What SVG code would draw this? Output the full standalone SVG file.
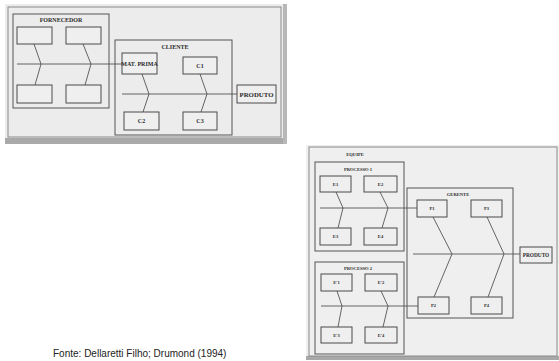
<svg xmlns="http://www.w3.org/2000/svg" width="559" height="361" viewBox="0 0 559 361">
<style>
.bg{fill:#ececec}
.fr{fill:none;stroke:#8a8a8a;stroke-width:1}
.grp{fill:none;stroke:#555;stroke-width:1}
.box{fill:#efefef;stroke:#4a4a4a;stroke-width:1}
.ln{fill:none;stroke:#555;stroke-width:0.9}
.t{font-family:"Liberation Serif","Times New Roman",serif;fill:#2a2a2a;text-anchor:middle;font-weight:bold}
.s1{font-size:6px}
.s2{font-size:4.6px}
.cap{font-family:"Liberation Sans",Arial,sans-serif;font-size:10px;fill:#222}
</style>
<rect width="559" height="361" fill="#ffffff"/>
<!-- top figure background -->
<rect class="bg" x="5" y="4" width="282" height="140"/>
<rect x="5" y="138" width="282" height="6" fill="#a9a9a9"/>
<rect x="283" y="4" width="4" height="140" fill="#b8b8b8"/>
<rect class="fr" x="8" y="7" width="273" height="130"/>
<!-- bottom figure background -->
<rect x="306" y="145" width="253" height="214" fill="#efefef"/>
<rect x="306" y="356" width="253" height="4" fill="#a8a8a8"/>
<rect class="fr" x="309" y="147" width="248" height="209"/>

<g id="connectors">
  <line class="ln" x1="17" y1="64" x2="122" y2="64"/>
  <polyline class="ln" points="34,44 41,64 35,85"/>
  <polyline class="ln" points="83,44 91,64 85,85"/>
  <line class="ln" x1="122" y1="94" x2="237" y2="94"/>
  <polyline class="ln" points="142,74 149,94 143,112"/>
  <polyline class="ln" points="200,74 207,94 201,112"/>
  <line class="ln" x1="320" y1="208" x2="417" y2="208"/>
  <polyline class="ln" points="336,192 343,208 338,228"/>
  <polyline class="ln" points="380,192 388,208 382,228"/>
  <line class="ln" x1="413" y1="254" x2="520" y2="254"/>
  <polyline class="ln" points="433,217 452,254 434,297"/>
  <polyline class="ln" points="487,217 504,254 488,297"/>
  <line class="ln" x1="321" y1="306" x2="418" y2="306"/>
  <polyline class="ln" points="337,291 342,306 338,327"/>
  <polyline class="ln" points="381,291 388,306 383,327"/>
</g>

<g id="fornecedor">
  <rect class="grp" x="13" y="14" width="96" height="94"/>
  <text class="t s1" x="61" y="21.5">FORNECEDOR</text>
</g>
<g id="f1"><rect class="box" x="17" y="27" width="35" height="17"/></g>
<g id="f2"><rect class="box" x="66" y="27" width="35" height="17"/></g>
<g id="f3"><rect class="box" x="17" y="85" width="35" height="18"/></g>
<g id="f4"><rect class="box" x="66" y="85" width="35" height="18"/></g>

<g id="cliente">
  <rect class="grp" x="115" y="40" width="117" height="95"/>
  <text class="t s1" x="175" y="49">CLIENTE</text>
</g>
<g id="matprima"><rect class="box" x="122" y="53" width="35" height="21"/><text class="t s1" x="139.5" y="66">MAT. PRIMA</text></g>
<g id="c1"><rect class="box" x="183" y="57" width="34" height="17"/><text class="t s1" x="200" y="67.5">C1</text></g>
<g id="c2"><rect class="box" x="124" y="112" width="35" height="18"/><text class="t s1" x="141.5" y="123">C2</text></g>
<g id="c3"><rect class="box" x="183" y="112" width="34" height="18"/><text class="t s1" x="200" y="123">C3</text></g>
<g id="produto1"><rect class="box" x="237" y="85" width="39" height="18"/><text class="t" font-size="6.8" x="256.5" y="96.5">PRODUTO</text></g>

<g id="equipe"><text class="t s2" x="355" y="156">EQUIPE</text></g>
<g id="processo1">
  <rect class="grp" x="315" y="162" width="89" height="89"/>
  <text class="t s2" x="358" y="170.5">PROCESSO 1</text>
</g>
<g id="e1"><rect class="box" x="320" y="176" width="31" height="16"/><text class="t s2" x="335.5" y="185.5">E1</text></g>
<g id="e2"><rect class="box" x="364" y="176" width="33" height="16"/><text class="t s2" x="380.5" y="185.5">E2</text></g>
<g id="e3"><rect class="box" x="320" y="228" width="31" height="17"/><text class="t s2" x="335.5" y="238">E3</text></g>
<g id="e4"><rect class="box" x="364" y="228" width="33" height="17"/><text class="t s2" x="380.5" y="238">E4</text></g>

<g id="gerente">
  <rect class="grp" x="407" y="188" width="106" height="130"/>
  <text class="t s2" x="458" y="195.5">GERENTE</text>
</g>
<g id="p1"><rect class="box" x="417" y="200" width="30" height="17"/><text class="t s2" x="432" y="210">P1</text></g>
<g id="p3"><rect class="box" x="471" y="200" width="31" height="17"/><text class="t s2" x="486.5" y="210">P3</text></g>
<g id="p2"><rect class="box" x="418" y="297" width="31" height="17"/><text class="t s2" x="433.5" y="307">P2</text></g>
<g id="p4"><rect class="box" x="471" y="297" width="31" height="17"/><text class="t s2" x="486.5" y="307">P4</text></g>
<g id="produto2"><rect class="box" x="520" y="247" width="32" height="16"/><text class="t" font-size="5.3" x="536" y="256.8">PRODUTO</text></g>

<g id="processo2">
  <rect class="grp" x="315" y="262" width="89" height="92"/>
  <text class="t s2" x="358" y="269.5">PROCESSO 2</text>
</g>
<g id="e1b"><rect class="box" x="321" y="274" width="31" height="17"/><text class="t s2" x="336.5" y="284">E'1</text></g>
<g id="e2b"><rect class="box" x="365" y="274" width="32" height="17"/><text class="t s2" x="381" y="284">E'2</text></g>
<g id="e3b"><rect class="box" x="321" y="327" width="31" height="16"/><text class="t s2" x="336.5" y="336.5">E'3</text></g>
<g id="e4b"><rect class="box" x="365" y="327" width="32" height="16"/><text class="t s2" x="381" y="336.5">E'4</text></g>

<text class="cap" x="53" y="356.5">Fonte: Dellaretti Filho; Drumond (1994)</text>
</svg>
